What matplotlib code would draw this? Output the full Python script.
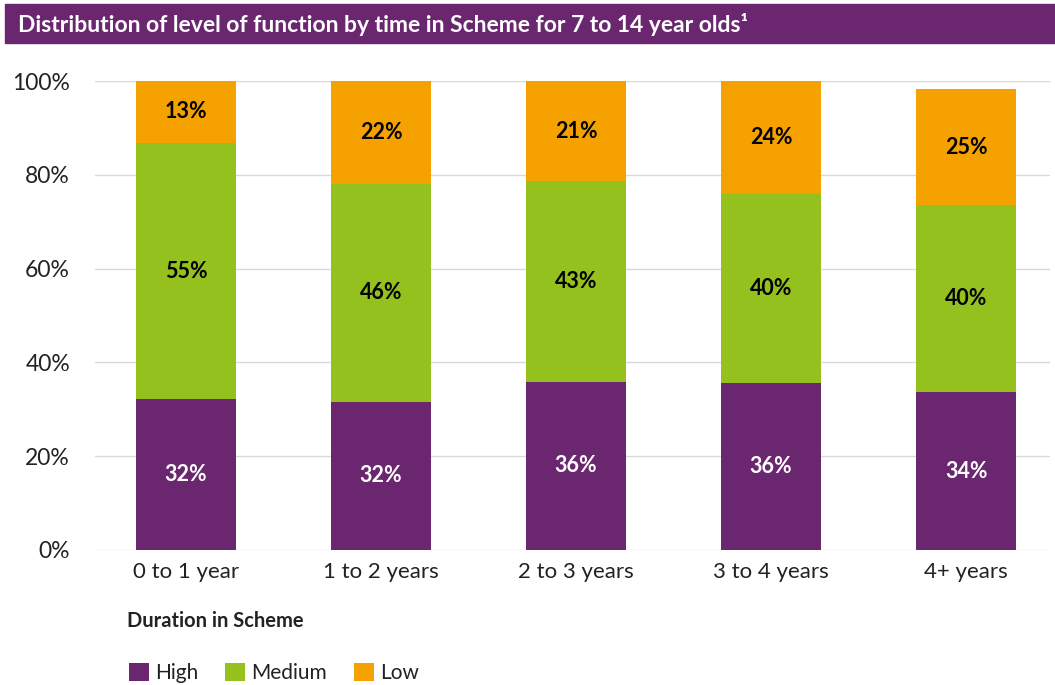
import matplotlib.pyplot as plt
from matplotlib.patches import Rectangle

plt.rcParams['font.family'] = ['Lato', 'DejaVu Sans']

# Data (shares in %)
categories = ["0 to 1 year", "1 to 2 years", "2 to 3 years", "3 to 4 years", "4+ years"]
high = [32.1, 31.6, 35.9, 35.7, 33.6]
medium = [54.7, 46.4, 42.7, 40.2, 39.9]
low = [13.2, 22.0, 21.4, 24.1, 24.8]
series_names = ["High", "Medium", "Low"]

purple = "#6B2670"
green = "#95C11F"
orange = "#F5A200"

fig = plt.figure(figsize=(10.55, 6.85), dpi=100)

# Title band
fig.patches.append(Rectangle((5 / 1055, 1 - 43 / 685), 1 - 5 / 1055, 39 / 685,
                             transform=fig.transFigure, color=purple, zorder=0))
fig.text(18 / 1055, 1 - 24 / 685, "Distribution of level of function by time in Scheme for 7 to 14 year olds¹",
         color="white", fontsize=16.5, fontweight="bold", va="center", ha="left")

ax = fig.add_axes([95 / 1055, 1 - 550 / 685, 955 / 1055, 469 / 685])
x = list(range(len(categories)))
w = 0.515

bottoms = [0] * len(x)
for vals, col, name, tcol in [(high, purple, "High", "white"),
                              (medium, green, "Medium", "black"),
                              (low, orange, "Low", "black")]:
    ax.bar(x, vals, w, bottom=bottoms, color=col, label=name, zorder=3)
    for i, v in enumerate(vals):
        ax.text(x[i], bottoms[i] + v / 2, f"{v:.0f}%", ha="center", va="center",
                color=tcol, fontsize=15.5, fontweight="bold", zorder=4)
    bottoms = [b + v for b, v in zip(bottoms, vals)]

ax.set_xlim(-0.467, 4.43)
ax.set_ylim(0, 100)
ax.set_yticks([0, 20, 40, 60, 80, 100])
ax.set_yticklabels([f"{t}%" for t in [0, 20, 40, 60, 80, 100]], fontsize=16.5, color="#222222")
ax.set_xticks(x)
ax.set_xticklabels(categories, fontsize=16, color="#222222")
ax.tick_params(length=0)
ax.tick_params(axis="y", pad=18)
ax.tick_params(axis="x", pad=9)
ax.grid(axis="y", color="#d9d9d9", linewidth=1, zorder=0)
for s in ax.spines.values():
    s.set_visible(False)

fig.text(127 / 1055, 1 - 621 / 685, "Duration in Scheme", fontsize=14.5, fontweight="bold",
         color="#222222", va="center", ha="left")

leg = fig.legend(loc="center left", bbox_to_anchor=(110 / 1055, 1 - 673 / 685), ncol=3,
                 frameon=False, fontsize=15, handlelength=0.95, handleheight=0.95,
                 handletextpad=0.3, columnspacing=1.3)
for t in leg.get_texts():
    t.set_color("#222222")

plt.savefig("out.png", dpi=100)
